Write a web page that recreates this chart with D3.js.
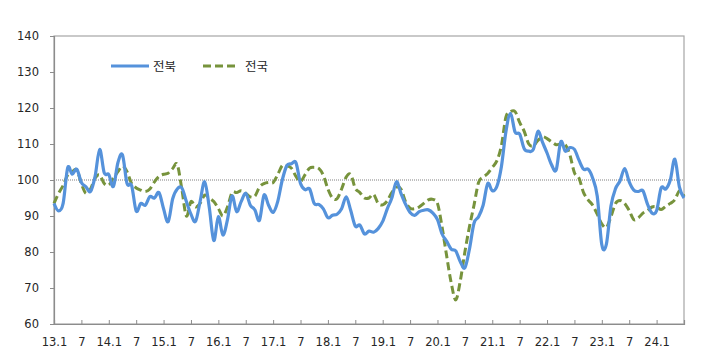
<!DOCTYPE html>
<html><head><meta charset="utf-8">
<script src="https://cdn.jsdelivr.net/npm/d3@7/dist/d3.min.js"></script>
<style>
body{margin:0;background:#fff;}
svg{display:block;}
</style></head>
<body><svg id="c" width="710" height="361"></svg>
<script>
// categories: monthly from 2013.1 to 2024.7
const years = [13,14,15,16,17,18,19,20,21,22,23,24];
const categories = [];
years.forEach(y => { for (let m = 1; m <= 12; m++) { if (y === 24 && m > 7) break; categories.push(y + "." + m); } });
const tickLabels = ["13.1","7","14.1","7","15.1","7","16.1","7","17.1","7","18.1","7","19.1","7","20.1","7","21.1","7","22.1","7","23.1","7","24.1"];
const yTicks = [60,70,80,90,100,110,120,130,140];
const seriesNames = ["전북","전국"];
const jeonbuk = [93.5,91.4,93.5,103.4,101.6,103,99.3,98.1,96.8,101,108.5,102,101.5,98.2,104.8,107,99,98.5,91.4,93.5,93,95.4,95,96.5,
92,88.4,94.8,97.5,97.8,94,90.5,88.5,94,99.5,92.5,83.2,89.8,84.7,89,95.6,91.2,94,96.3,93,91.7,88.8,95.8,93,
91,94,100,104,104.5,104.8,99,97.3,97.5,93.5,93.2,92,89.5,90.2,90.5,92,95.3,91.5,87.2,87.5,85,85.8,85.5,86.5,
88.5,92,95,99.5,96.3,93.3,91,90.2,91.2,91.6,91.7,90.8,89,85,83,80.8,80.3,77.3,75.6,80.8,88,89.8,93,99,
97,98.2,103.7,113.5,118.5,113.3,112.8,108.7,108,108.5,113.5,110.5,107.5,104.2,102.8,110.6,108,109,108.5,105.5,103,103,100.5,95.5,
82,82.2,92.8,97.6,99.8,103.2,99.5,97.2,96.8,97,93.3,90.8,91.5,97.8,97.5,100,105.8,98,95];
const national = [93.5,96.3,98.5,101.4,102.3,102.8,99,96.3,97.5,100.5,101.4,99,98.6,100.5,102.3,103.9,102.3,99,97.8,97.2,96.8,97.5,99.5,101,
101.6,101.9,103.2,104.3,97.5,90,94,92.5,93.5,95.8,95,94,92.1,90,92.5,96.5,96.5,97,96.3,95.3,95.5,98,99,99.3,
99.3,101.5,104,104,103.3,101,99.6,101.5,103.3,103.5,103.2,101.3,97.5,95,94.8,97.5,100.8,101.5,97.7,96.5,95,95,96,93.5,
93.1,94.2,96.5,98,97.5,94,92.2,92,92.5,93.5,94.5,94.6,93.5,87,79,71.5,66.7,72,80,87,93,99.3,100.8,101.8,
103.5,105.3,109.5,117.5,119,119,116,113.5,110,109.5,111,112,111.5,110.6,109.8,110,109.8,107,102,100.5,96.5,94.5,93,90.5,
87.8,86.8,89.8,93.5,94.3,93.5,91.5,89,89.5,90.8,91.5,92.5,92.5,91.8,92.7,93.5,94.5,97,95.5];

const svg = d3.select("#c");
const L = 54, R = 684, T = 36, B = 324;
const x = d3.scalePoint().domain(d3.range(categories.length)).range([L, R]);
const y = d3.scaleLinear().domain([60, 140]).range([B, T]);
const font = "'DejaVu Sans', Verdana, sans-serif";

// frame
svg.append("rect").attr("x", L).attr("y", T).attr("width", R - L).attr("height", B - T)
  .attr("fill", "none").attr("stroke", "#a6a6a6").attr("stroke-width", 1.2);

// 100 reference line
svg.append("line").attr("x1", L).attr("x2", R).attr("y1", y(100)).attr("y2", y(100))
  .attr("stroke", "#808080").attr("stroke-width", 1).attr("stroke-dasharray", "1,1");

// y axis
const yAxis = d3.axisLeft(y).tickValues(yTicks).tickSize(4).tickPadding(11).tickFormat(d3.format("d"));
const ga = svg.append("g").attr("transform", `translate(${L},0)`).call(yAxis);
ga.select(".domain").attr("stroke", "#8c8c8c").attr("stroke-width", 1.2);
ga.selectAll(".tick line").attr("stroke", "#8c8c8c");
ga.selectAll("text").attr("font-family", font).attr("font-size", 11.5).attr("fill", "#262626");

// x axis
const tickIdx = tickLabels.map((t, k) => k * 6);
const xAxis = d3.axisBottom(x).tickValues(tickIdx).tickSize(-4).tickPadding(14)
  .tickFormat((d, k) => tickLabels[k]);
const gx = svg.append("g").attr("transform", `translate(0,${B})`).call(xAxis);
gx.select(".domain").attr("stroke", "#8c8c8c").attr("stroke-width", 1.2);
gx.selectAll(".tick line").attr("stroke", "#8c8c8c");
gx.selectAll("text").attr("font-family", font).attr("font-size", 11.5).attr("fill", "#262626");

// lines
const line = d3.line().x((d, i) => x(i)).y(d => y(d)).curve(d3.curveCardinal.tension(0));
svg.append("path").datum(national).attr("d", line).attr("fill", "none")
  .attr("stroke", "#77933c").attr("stroke-width", 3).attr("stroke-dasharray", "8,4");
svg.append("path").datum(jeonbuk).attr("d", line).attr("fill", "none")
  .attr("stroke", "#5592db").attr("stroke-width", 3.2).attr("stroke-linejoin", "round");

// legend
const lg = svg.append("g");
lg.append("line").attr("x1", 111).attr("x2", 149).attr("y1", 66).attr("y2", 66)
  .attr("stroke", "#5592db").attr("stroke-width", 3);
lg.append("text").attr("x", 153).attr("y", 70.5).text(seriesNames[0])
  .attr("font-family", "'Noto Sans CJK KR', sans-serif").attr("font-size", 12.5).attr("fill", "#262626");
lg.append("line").attr("x1", 203).attr("x2", 239).attr("y1", 66).attr("y2", 66)
  .attr("stroke", "#77933c").attr("stroke-width", 3).attr("stroke-dasharray", "8,4");
lg.append("text").attr("x", 245).attr("y", 70.5).text(seriesNames[1])
  .attr("font-family", "'Noto Sans CJK KR', sans-serif").attr("font-size", 12.5).attr("fill", "#262626");
</script></body></html>
